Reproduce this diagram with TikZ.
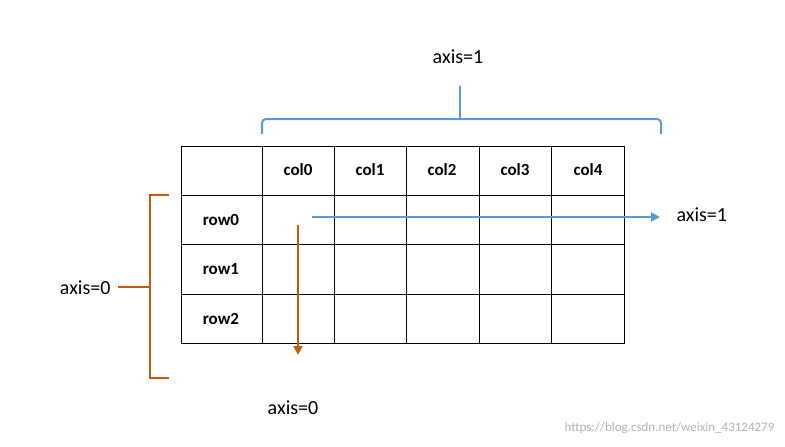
\documentclass[tikz,border=0pt]{standalone}
\usepackage{fontspec}
\setmainfont{Carlito}
\usetikzlibrary{arrows.meta}
\definecolor{bl}{RGB}{91,155,213}
\definecolor{org}{RGB}{197,90,17}
\begin{document}
\begin{tikzpicture}[x=1pt,y=-1pt,
  cell/.style={font=\fontsize{17}{20}\selectfont\bfseries},
  lab/.style={font=\fontsize{20}{24}\selectfont},
  br/.style={line width=2pt}]
\useasboundingbox (0,0) rectangle (785,447);
\fill[white] (0,0) rectangle (785,447);
% grid
\draw[line width=1pt] (181,146) rectangle (624,343);
\foreach \x in {262,334,406,479,551} \draw[line width=1pt] (\x,146) -- (\x,343);
\foreach \y in {195,244,294} \draw[line width=1pt] (181,\y) -- (624,\y);
\node[cell] (c0) at (298,170) {col0};
\node[cell] (c1) at (370,170) {col1};
\node[cell] (c2) at (442,170) {col2};
\node[cell] (c3) at (515,170) {col3};
\node[cell] (c4) at (588,170) {col4};
\node[cell] (r0) at (221,220) {row0};
\node[cell] (r1) at (221,269) {row1};
\node[cell] (r2) at (221,319) {row2};
% blue bracket
\draw[bl,br,rounded corners=4pt] (262,134) -- (262,119) -- (661,119) -- (661,134);
\draw[bl,br] (460,119) -- (460,86);
\node[lab] (a1t) at (458,57) {axis=1};
% orange bracket
\draw[org,br] (169,195) -- (150,195) -- (150,378) -- (169,378);
\draw[org,br] (150,287) -- (118,287);
\node[lab,anchor=east] (a0l) at (114,288) {axis=0};
% arrows
\coordinate (bs) at (312,217);
\coordinate (be) at (660,217);
\draw[bl,line width=2pt,-{Triangle[length=9pt,width=9pt]}] (bs) -- (be);
\node[lab,anchor=west] (a1r) at (673,215) {axis=1};
\coordinate (os) at (298,225);
\coordinate (oe) at (298,355);
\draw[org,line width=2pt,-{Triangle[length=9pt,width=9pt]}] (os) -- (oe);
\node[lab] (a0b) at (293,408) {axis=0};
\node[font=\fontsize{13}{15}\selectfont,text=gray!60,anchor=east] (wm) at (778,428) {https://blog.csdn.net/weixin\_43124279};
\end{tikzpicture}
\end{document}
